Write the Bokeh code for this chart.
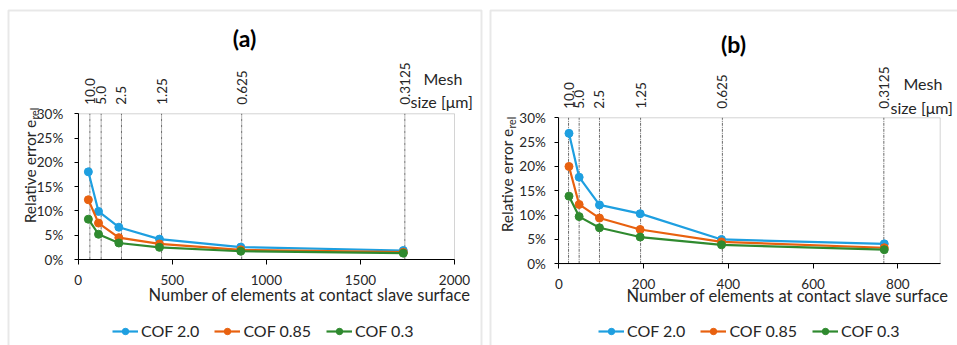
import math
from bokeh.plotting import figure
from bokeh.models import (Range1d, LinearAxis, FixedTicker, PrintfTickFormatter,
                          Label, Legend, LegendItem, BoxAnnotation)
from bokeh.layouts import row
from bokeh.embed import file_html
from bokeh.resources import INLINE

# ---------------- data ----------------
mesh_labels = ["10.0", "5.0", "2.5", "1.25", "0.625", "0.3125"]
series_names = ["COF 2.0", "COF 0.85", "COF 0.3"]
series_colors = ["#1E9FE0", "#E8610F", "#2F8A2F"]

elements_a = [54, 108, 216, 432, 864, 1728]
mesh_lines_a = [62, 122, 230, 443, 869, 1736]
cof20_a = [18.05, 9.9, 6.65, 4.2, 2.55, 1.85]
cof085_a = [12.3, 7.5, 4.5, 3.2, 2.0, 1.5]
cof03_a = [8.3, 5.2, 3.4, 2.5, 1.7, 1.3]

elements_b = [24, 48, 96, 192, 384, 768]
mesh_lines_b = [23, 48, 96, 193, 386, 767]
cof20_b = [26.8, 17.8, 12.1, 10.3, 5.0, 4.1]
cof085_b = [20.0, 12.2, 9.4, 7.05, 4.5, 3.3]
cof03_b = [13.9, 9.7, 7.4, 5.5, 3.9, 2.9]

x_ticks_a = [0, 500, 1000, 1500, 2000]
x_ticks_b = [0, 200, 400, 600, 800]
y_ticks = [0, 5, 10, 15, 20, 25, 30]
YMAX = 30

FONT = "Lato"
TXT = "#262626"
H = 345


def make_panel(title, W, frame_px, xmax, xticks, elements, mesh_lines, series, box, lab):
    # frame_px: pixel positions of x=0, x=xmax, y=0, y=YMAX inside this canvas
    X0, X1, Y0, Y1 = frame_px
    sx = (X1 - X0) / xmax
    sy = (Y0 - Y1) / YMAX
    p = figure(width=W, height=H, output_backend="svg", toolbar_location=None,
               x_range=Range1d(-X0 / sx, xmax + (W - X1) / sx),
               y_range=Range1d(-(H - Y0) / sy, YMAX + Y1 / sy),
               min_border=0, background_fill_color="white",
               border_fill_color="white", x_axis_location=None, y_axis_location=None)
    p.title.visible = False
    p.xgrid.visible = False
    p.ygrid.visible = False
    p.outline_line_color = None

    # plot-area border
    p.add_layout(BoxAnnotation(left=0, right=xmax, bottom=0, top=YMAX,
                               fill_alpha=0, line_color="#6f6f6f", line_width=1,
                               level="underlay"))

    xax = LinearAxis(ticker=FixedTicker(ticks=xticks), fixed_location=0, bounds=(0, xmax))
    yax = LinearAxis(ticker=FixedTicker(ticks=y_ticks), fixed_location=0, bounds=(0, YMAX),
                     formatter=PrintfTickFormatter(format="%d%%"))
    for ax in (xax, yax):
        ax.axis_line_color = "black"
        ax.axis_line_width = 1
        ax.major_tick_line_color = "black"
        ax.major_tick_in = 0
        ax.major_tick_out = 5
        ax.minor_tick_line_color = None
        ax.major_label_text_font = FONT
        ax.major_label_text_font_size = "13.5px"
        ax.major_label_text_color = TXT
    xax.major_label_standoff = 10
    yax.major_label_standoff = lab["ystand"]
    yax.major_tick_out = 4
    p.add_layout(xax, "below")
    p.add_layout(yax, "left")

    # secondary (mesh size) axis on top
    top = LinearAxis(ticker=FixedTicker(ticks=mesh_lines), fixed_location=YMAX,
                     bounds=(0, xmax),
                     major_label_overrides={m: t for m, t in zip(mesh_lines, mesh_labels)},
                     major_label_orientation=math.pi / 2,
                     axis_line_color=None, major_tick_line_color=None,
                     minor_tick_line_color=None, major_label_standoff=3,
                     major_label_text_font=FONT, major_label_text_font_size="13.5px",
                     major_label_text_color=TXT)
    p.add_layout(top, "above")

    # mesh guide lines
    p.segment(x0=mesh_lines, y0=[0] * len(mesh_lines), x1=mesh_lines,
              y1=[YMAX] * len(mesh_lines), line_color="#6a6a6a", line_width=1,
              line_dash="3 1 1 1")

    items = []
    for name, col, vals in zip(series_names, series_colors, series):
        ln = p.line(elements, vals, line_color=col, line_width=2.2)
        sc = p.scatter(elements, vals, size=8, fill_color=col, line_color=col)
        items.append(LegendItem(label=name, renderers=[ln, sc]))

    legend = Legend(items=items, orientation="horizontal",
                    location=lab["legend"], padding=0, margin=0, spacing=15,
                    glyph_width=26, glyph_height=16, label_height=16, label_standoff=3,
                    label_text_font=FONT, label_text_font_size="16px",
                    label_text_color=TXT, border_line_color=None,
                    background_fill_alpha=0)
    p.add_layout(legend, "center")

    # chart-area border
    p.add_layout(BoxAnnotation(left=box[0], right=box[1], top=10, bottom=400,
                               left_units="canvas", right_units="canvas",
                               top_units="canvas", bottom_units="canvas",
                               fill_alpha=0, line_color="#b4b4b4", line_width=2))

    def lbl(x, y, text, size, align="left", angle=0.0, bold=False, base="middle"):
        p.add_layout(Label(x=x, y=y, x_units="canvas", y_units="canvas", text=text,
                           text_font=FONT, text_font_size=size,
                           text_color="black" if bold else TXT,
                           text_font_style="bold" if bold else "normal",
                           text_align=align, text_baseline=base, angle=angle))

    lbl(lab["title"][0], lab["title"][1], title, "23px", align="center", bold=True)
    lbl(lab["mesh"][0], lab["mesh"][1], "Mesh", "16px")
    lbl(lab["size"][0], lab["size"][1], "size [\u03bcm]", "16px")
    lbl(lab["xtitle"][0], lab["xtitle"][1], "Number of elements at contact slave surface", "16.5px")
    lbl(lab["ylab"][0], lab["ylab"][2], "Relative error e", "15.5px", align="right",
        angle=math.pi / 2)
    lbl(lab["ylab"][1], lab["ylab"][2], "rel", "10.5px", align="left", angle=math.pi / 2)
    return p


pa = make_panel("(a)", 485, (77.7, 454.0, 259.0, 113.3), 2000, x_ticks_a, elements_a,
                mesh_lines_a, [cof20_a, cof085_a, cof03_a], (8, 481),
                {"legend": (112, 5), "title": (244, 37), "mesh": (423, 78),
                 "size": (410, 101), "xtitle": (148, 294), "ylab": (29, 34, 119),
                 "ystand": 11})
pb = make_panel("(b)", 472, (73.3, 454.7, 263.3, 117.3), 900, x_ticks_b, elements_b,
                mesh_lines_b, [cof20_b, cof085_b, cof03_b], (5, 520),
                {"legend": (113, 5), "title": (248, 43), "mesh": (418, 83),
                 "size": (405, 107), "xtitle": (141, 295), "ylab": (21, 26, 128),
                 "ystand": 9})

layout = row(pa, pb)
open("out.html", "w").write(file_html(layout, INLINE))
